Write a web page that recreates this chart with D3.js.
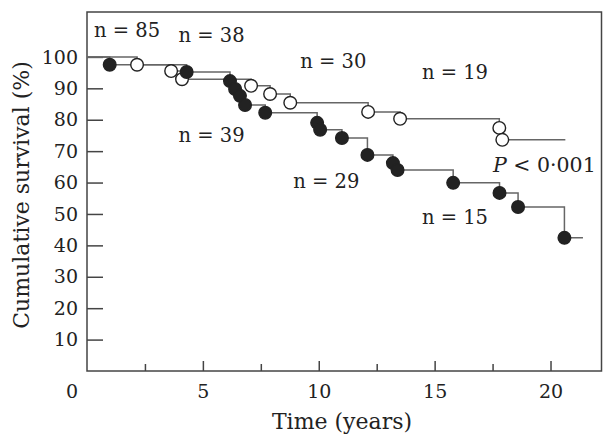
<!DOCTYPE html>
<html>
<head>
<meta charset="utf-8">
<script src="https://cdn.jsdelivr.net/npm/d3@7"></script>
<style>
  body { margin: 0; background: #fff; }
  text { font-family: "DejaVu Serif", serif; fill: #222; }
  .axis path, .axis line { stroke: #444; stroke-width: 1.5; }
</style>
</head>
<body>
<div id="chart"></div>
<script>
// survival data: event time (years) and survival (%) after the event
const filledTimes = [0.98, 4.3, 6.17, 6.39, 6.6, 6.82, 7.69, 9.93, 10.06, 11.0, 12.1, 13.2, 13.4, 15.8, 17.8, 18.6, 20.6];
const filledSurv  = [97.5, 95.2, 92.3, 89.8, 87.6, 84.7, 82.2, 79.0, 76.8, 74.2, 68.8, 66.2, 64.0, 59.9, 56.7, 52.2, 42.4];
const filledEnd = 21.4;

const openTimes = [2.16, 3.63, 4.1, 7.08, 7.9, 8.77, 12.13, 13.51, 17.79, 17.92];
const openSurv  = [97.5, 95.5, 92.9, 90.8, 88.2, 85.4, 82.5, 80.3, 77.4, 73.6];
const openEnd = 20.64;

const xMajor = [5, 10, 15, 20];
const xMinor = [2.5, 7.5, 12.5, 17.5];
const yTicks = [10, 20, 30, 40, 50, 60, 70, 80, 90, 100];

// number-at-risk labels: [time, survival, text]
const riskLabels = [
  [0.3, 108.5, 'n = 85'],
  [3.95, 106.8, 'n = 38'],
  [9.2, 98.6, 'n = 30'],
  [14.45, 95.2, 'n = 19'],
  [3.95, 75.2, 'n = 39'],
  [8.9, 60.5, 'n = 29'],
  [14.45, 48.9, 'n = 15']
];

const width = 611;
const height = 435;

const svg = d3.select('#chart').append('svg')
  .attr('width', width).attr('height', height);

const x = d3.scaleLinear().domain([0, 22.2]).range([87, 601.5]);
const y = d3.scaleLinear().domain([0, 114.3]).range([371, 12]);

// frame
svg.append('rect')
  .attr('x', x(0)).attr('y', y(114.3))
  .attr('width', x(22.2) - x(0)).attr('height', y(0) - y(114.3))
  .attr('fill', 'none').attr('stroke', '#444').attr('stroke-width', 1.5);

// axes, ticks pointing inward
svg.append('g').attr('class', 'axis')
  .attr('transform', `translate(0,${y(0)})`)
  .call(d3.axisBottom(x).tickValues(xMinor).tickSizeInner(-7).tickSizeOuter(0).tickFormat(''))
  .call(g => g.select('.domain').remove());

svg.append('g').attr('class', 'axis')
  .attr('transform', `translate(0,${y(0)})`)
  .call(d3.axisBottom(x).tickValues(xMajor).tickSizeInner(-10).tickSizeOuter(0).tickPadding(14))
  .call(g => g.select('.domain').remove())
  .call(g => g.selectAll('text').attr('font-size', 19).style('font-family', '"DejaVu Serif", serif'));

svg.append('g').attr('class', 'axis')
  .attr('transform', `translate(${x(0)},0)`)
  .call(d3.axisLeft(y).tickValues(yTicks).tickSizeInner(-16).tickSizeOuter(0).tickPadding(9))
  .call(g => g.select('.domain').remove())
  .call(g => g.selectAll('text').attr('font-size', 19).style('font-family', '"DejaVu Serif", serif'));

// the lone "0" under the corner
svg.append('text')
  .attr('x', x(0) - 9).attr('y', y(0) + 14)
  .attr('dy', '0.71em')
  .attr('text-anchor', 'end')
  .attr('font-size', 19)
  .text('0');

// axis titles
svg.append('text')
  .attr('transform', `translate(29,${195}) rotate(-90)`)
  .attr('text-anchor', 'middle')
  .attr('font-size', 22)
  .text('Cumulative survival (%)');

svg.append('text')
  .attr('x', 342).attr('y', 429)
  .attr('text-anchor', 'middle')
  .attr('font-size', 22)
  .text('Time (years)');

function stepPoints(times, surv, end) {
  const pts = [[0, 100]];
  let prev = 100;
  times.forEach((t, i) => {
    pts.push([t, prev]);
    pts.push([t, surv[i]]);
    prev = surv[i];
  });
  pts.push([end, prev]);
  return pts;
}

const line = d3.line().x(d => x(d[0])).y(d => y(d[1]));

const groups = [
  {times: openTimes, surv: openSurv, end: openEnd, fill: '#fff'},
  {times: filledTimes, surv: filledSurv, end: filledEnd, fill: '#222'}
];

groups.forEach(g => {
  svg.append('path')
    .datum(stepPoints(g.times, g.surv, g.end))
    .attr('d', line)
    .attr('fill', 'none')
    .attr('stroke', '#666')
    .attr('stroke-width', 1.5);
});

groups.forEach(g => {
  svg.append('g').selectAll('circle')
    .data(g.times.map((t, i) => [t, g.surv[i]]))
    .enter()
    .append('circle')
    .attr('cx', d => x(d[0]))
    .attr('cy', d => y(d[1]))
    .attr('r', 6.3)
    .attr('fill', g.fill)
    .attr('stroke', '#222')
    .attr('stroke-width', 1.4);
});

// annotations
svg.append('g').selectAll('text')
  .data(riskLabels)
  .enter()
  .append('text')
  .attr('x', d => x(d[0]))
  .attr('y', d => y(d[1]))
  .attr('dy', '0.35em')
  .attr('font-size', 19.5)
  .text(d => d[2]);

const pText = svg.append('text')
  .attr('x', 493).attr('y', 165)
  .attr('dy', '0.35em')
  .attr('font-size', 20.5);
pText.append('tspan').attr('font-style', 'italic').text('P');
pText.append('tspan').text(' < 0·001');
</script>
</body>
</html>
